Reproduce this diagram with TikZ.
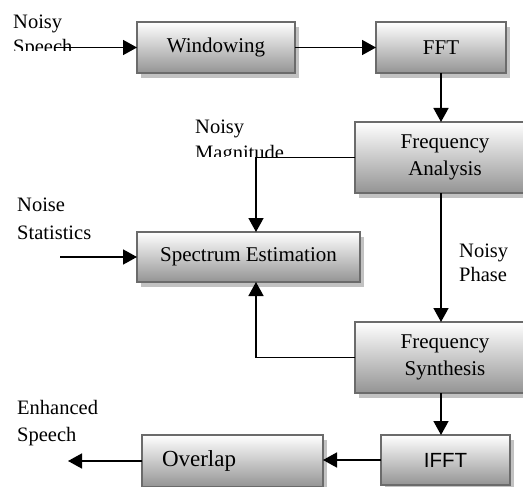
\documentclass[tikz,border=0pt]{standalone}
\usepackage{fontspec}
\setmainfont{Liberation Serif}
\newfontfamily\arialfont{Liberation Sans}
\usetikzlibrary{arrows.meta,shadows}

\tikzset{
  blockbox/.style={
    rectangle, draw=black!58, line width=2pt,
    top color=white, bottom color=black!42,
    drop shadow={shadow xshift=4pt, shadow yshift=-5pt, fill=black!24, opacity=1},
    font=\fontsize{21}{26.5}\selectfont, align=center,
    inner sep=0pt, outer sep=0pt},
  flow/.style={line width=1.6pt, -{Triangle[length=14pt,width=15pt]}},
  plainline/.style={line width=1.6pt},
  lbl/.style={anchor=north west, inner sep=0pt, align=left,
    font=\fontsize{20.5}{26}\selectfont},
}

\begin{document}
\begin{tikzpicture}[x=1pt,y=-1pt]
  \useasboundingbox (0,0) rectangle (523,487);
  \fill[white] (0,0) rectangle (523,487);
  \clip (0,0) rectangle (523,487);

  % processing blocks
  \node[blockbox, minimum width=158pt, minimum height=51pt] (win) at (216,47.5) {Windowing};
  \node[blockbox, minimum width=130pt, minimum height=51pt] (fft) at (441,47.5) {FFT};
  \node[blockbox, minimum width=180pt, minimum height=71pt] (fa) at (445,157.5) {Frequency\\Analysis};
  \node[blockbox, minimum width=223pt, minimum height=50pt] (se) at (248.5,257) {Spectrum Estimation};
  \node[blockbox, minimum width=180pt, minimum height=71pt] (fs) at (445,357.5) {Frequency\\Synthesis};
  \node[blockbox, minimum width=129pt, minimum height=50pt, font=\arialfont\fontsize{20.5}{24}\selectfont] (ifft) at (445.5,460) {IFFT};
  \node[blockbox, minimum height=52pt, inner xsep=20pt, text width=141pt, align=left,
        font=\fontsize{23}{27}\selectfont] (ov) at (232.5,461) {Overlap};

  % input / output labels (text boxes clipped at their lower edge)
  \begin{scope}
    \clip (0,0) rectangle (130,51);
    \node[lbl, font=\fontsize{20.5}{25}\selectfont] (lspeech) at (13,15) {Noisy\\Speech};
  \end{scope}
  \begin{scope}
    \clip (180,90) rectangle (350,157);
    \node[lbl] (lmag) at (195,120) {Noisy\\Magnitude};
  \end{scope}
  \begin{scope}
    \clip (450,230) rectangle (523,281);
    \node[lbl, font=\fontsize{20.5}{24}\selectfont] (lphase) at (459,244) {Noisy\\Phase};
  \end{scope}
  \node[lbl, font=\fontsize{20.5}{28}\selectfont] (lnoise) at (17,198) {Noise\\Statistics};
  \node[lbl, font=\fontsize{20.5}{27}\selectfont] (lenh) at (17,400) {Enhanced\\Speech};

  % free ends and corners
  \coordinate (inspeech) at (55,47.5);
  \coordinate (instat) at (60,257);
  \coordinate (outspeech) at (68,461);
  \coordinate (magcorner) at (256,157.5);
  \coordinate (syncorner) at (256,357.5);

  % connectors
  \draw[flow] (inspeech) -- (win.west);
  \draw[flow] (win.east) -- (fft.west);
  \draw[flow] (fft.south) -- (fft.south |- fa.north);
  \draw[plainline] (fa.west) -- (magcorner);
  \draw[flow] (magcorner) -- (magcorner |- se.north);
  \draw[flow] (instat) -- (se.west);
  \draw[flow] (fft.south |- fa.south) -- (fft.south |- fs.north);
  \draw[plainline] (fs.west) -- (syncorner);
  \draw[flow] (syncorner) -- (syncorner |- se.south);
  \draw[flow] (fft.south |- fs.south) -- (fft.south |- ifft.north);
  \draw[flow] (ifft.west) -- (ifft.west -| ov.east);
  \draw[flow] (ov.west |- outspeech) -- (outspeech);
\end{tikzpicture}
\end{document}
